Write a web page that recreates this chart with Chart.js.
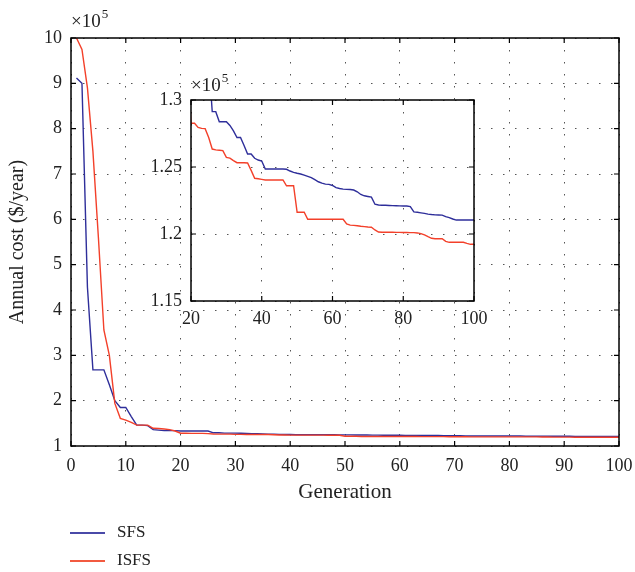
<!DOCTYPE html>
<html>
<head>
<meta charset="utf-8">
<script src="https://cdn.jsdelivr.net/npm/chart.js@4.4.0/dist/chart.umd.min.js"></script>
<style>
  body { margin: 0; background: #fff; }
  #wrap { position: relative; width: 635px; height: 572px; }
  #main { position: absolute; left: 0; top: 0; }
  #inset { position: absolute; left: 120px; top: 60px; }
  .leg { position: absolute; left: 70px; font-family: "Liberation Serif", serif; font-size: 17px; color: #222; }
  .leg span { display: inline-block; width: 35px; height: 2px; vertical-align: middle; margin-right: 12px; }
</style>
</head>
<body>
<div id="wrap">
  <canvas id="main" width="635" height="572"></canvas>
  <canvas id="inset" width="370" height="285"></canvas>
  <div class="leg" style="top:522px"><span style="background:#4a4aa8"></span>SFS</div>
  <div class="leg" style="top:550px"><span style="background:#f25a40"></span>ISFS</div>
</div>
<script>
// values in units of 1e5 $/year, generation 1..100
const sfs = [
  9.12, 9.00, 4.50, 2.68, 2.68, 2.68, 2.35, 2.00, 1.85, 1.85,
  1.65, 1.46, 1.46, 1.45, 1.36, 1.35, 1.34, 1.34, 1.34, 1.33,
  1.33, 1.33, 1.33, 1.33, 1.33, 1.2913, 1.2913, 1.2838, 1.2838, 1.2838,
  1.281, 1.277, 1.272, 1.272, 1.266, 1.2597, 1.2597, 1.2565, 1.2552, 1.2545,
  1.2485, 1.2485, 1.2485, 1.2485, 1.2485, 1.2485, 1.2483, 1.247, 1.246, 1.2453,
  1.2448, 1.244, 1.243, 1.242, 1.2405, 1.239, 1.238, 1.2372, 1.237, 1.2362,
  1.2346, 1.234, 1.2335, 1.2333, 1.2332, 1.2328, 1.2315, 1.2295, 1.2285, 1.228,
  1.2275, 1.2222, 1.2216, 1.2215, 1.2214, 1.2213, 1.2212, 1.2211, 1.221, 1.2209,
  1.2209, 1.2205, 1.2165, 1.2162, 1.2158, 1.2154, 1.2148, 1.2145, 1.2143, 1.2142,
  1.2141, 1.213, 1.2122, 1.2112, 1.2104, 1.2104, 1.2104, 1.2104, 1.2104, 1.2104
]
const isfs = [
  10.0, 9.75, 8.90, 7.50, 5.60, 3.56, 3.00, 1.94, 1.61, 1.57,
  1.52, 1.46, 1.46, 1.46, 1.39, 1.385, 1.375, 1.36, 1.33, 1.2826,
  1.2826, 1.2795, 1.2788, 1.2786, 1.272, 1.2634, 1.2628, 1.2625, 1.2622, 1.2572,
  1.2566, 1.2548, 1.2532, 1.2532, 1.2532, 1.253, 1.2475, 1.2416, 1.2412, 1.2408,
  1.2403, 1.2403, 1.2403, 1.2403, 1.2403, 1.2403, 1.236, 1.236, 1.236, 1.2162,
  1.2162, 1.2162, 1.211, 1.211, 1.211, 1.211, 1.211, 1.211, 1.211, 1.211,
  1.211, 1.211, 1.211, 1.2075, 1.2066, 1.2064, 1.2062, 1.2058, 1.2055, 1.2052,
  1.205, 1.203, 1.2015, 1.2013, 1.2013, 1.2013, 1.2013, 1.2012, 1.2012, 1.2011,
  1.2011, 1.201, 1.201, 1.2008, 1.2003, 1.1993, 1.198, 1.1968, 1.1965, 1.1965,
  1.1965, 1.1945, 1.1938, 1.1938, 1.1938, 1.1938, 1.1938, 1.193, 1.1923, 1.1923
]
const generations = sfs.map((v, i) => i + 1)
const seriesNames = ['SFS', 'ISFS']
const seriesColors = ['#2e2e9a', '#f3402a']

const serif = '"Liberation Serif", "Times New Roman", serif'

const pts = (vals) => vals.map((v, i) => ({ x: generations[i], y: v }))

// box, inward ticks, white plot area and the x10^5 label
const frame = {
  id: 'frame',
  beforeDraw(chart, args, opts) {
    if (!opts.fill) return
    const { ctx, chartArea: a } = chart
    ctx.save()
    ctx.fillStyle = '#fff'
    ctx.fillRect(a.left, a.top, a.right - a.left, a.bottom - a.top)
    ctx.restore()
  },
  afterDraw(chart, args, opts) {
    const { ctx, chartArea: a, scales } = chart
    ctx.save()
    ctx.strokeStyle = '#000'
    ctx.lineWidth = 1.5
    ctx.strokeRect(a.left, a.top, a.right - a.left, a.bottom - a.top)
    ctx.lineWidth = 1.2
    const len = 5
    ctx.beginPath()
    scales.x.ticks.forEach(t => {
      const px = scales.x.getPixelForValue(t.value)
      ctx.moveTo(px, a.bottom); ctx.lineTo(px, a.bottom - len)
      ctx.moveTo(px, a.top); ctx.lineTo(px, a.top + len)
    })
    scales.y.ticks.forEach(t => {
      const py = scales.y.getPixelForValue(t.value)
      ctx.moveTo(a.left, py); ctx.lineTo(a.left + len, py)
      ctx.moveTo(a.right, py); ctx.lineTo(a.right - len, py)
    })
    ctx.stroke()
    // multiplier
    ctx.fillStyle = '#222'
    ctx.textBaseline = 'alphabetic'
    ctx.font = '19px ' + serif
    const base = a.top - opts.lift
    ctx.fillText('×10', a.left, base)
    const w = ctx.measureText('×10').width
    ctx.font = '13px ' + serif
    ctx.fillText('5', a.left + w + 1, base - 9)
    ctx.restore()
  }
}

function dsets(width) {
  return [sfs, isfs].map((vals, k) => ({
    label: seriesNames[k],
    data: pts(vals),
    borderColor: seriesColors[k],
    backgroundColor: seriesColors[k],
    borderWidth: width,
    pointRadius: 0,
    tension: 0,
    order: 1 - k
  }))
}

function axis(min, max, step, pad, extra) {
  return Object.assign({
    type: 'linear',
    min: min,
    max: max,
    ticks: { stepSize: step, padding: pad, color: '#222', font: { family: serif, size: 18 } },
    grid: { color: '#555', lineWidth: 1, drawTicks: false },
    border: { display: false, dash: [1.5, 10.5] }
  }, extra)
}

// keep the plot box where the reference has it
const fixX = (h) => (s) => { s.height = h; s.paddingLeft = 0; s.paddingRight = 0 }
const fixY = (w) => (s) => { s.width = w; s.paddingTop = 0; s.paddingBottom = 0 }

new Chart(document.getElementById('main'), {
  type: 'line',
  data: { datasets: dsets(1.4) },
  options: {
    responsive: false,
    animation: false,
    layout: { padding: { left: 0, right: 16, top: 38, bottom: 67 } },
    plugins: { legend: { display: false }, tooltip: { enabled: false }, frame: { lift: 11, fill: false } },
    scales: {
      x: axis(0, 100, 10, 9, {
        title: { display: true, text: 'Generation', color: '#222', font: { family: serif, size: 21 }, padding: 0 },
        afterFit: fixX(59)
      }),
      y: axis(1, 10, 1, 9, {
        title: { display: true, text: 'Annual cost ($/year)', color: '#222', font: { family: serif, size: 20 }, padding: { top: 6, bottom: 0 } },
        afterFit: fixY(71)
      })
    }
  },
  plugins: [frame]
})

new Chart(document.getElementById('inset'), {
  type: 'line',
  data: { datasets: dsets(1.4) },
  options: {
    responsive: false,
    animation: false,
    layout: { padding: { left: 0, right: 16, top: 40, bottom: 14 } },
    plugins: { legend: { display: false }, tooltip: { enabled: false }, frame: { lift: 9, fill: true } },
    scales: {
      x: axis(20, 100, 20, 7, { afterFit: fixX(30) }),
      y: axis(1.15, 1.3, 0.05, 9, {
        ticks: {
          stepSize: 0.05, padding: 9, color: '#222', font: { family: serif, size: 18 },
          callback: (v) => String(Math.round(v * 100) / 100)
        },
        afterFit: fixY(71)
      })
    }
  },
  plugins: [frame]
})
</script>
</body>
</html>
